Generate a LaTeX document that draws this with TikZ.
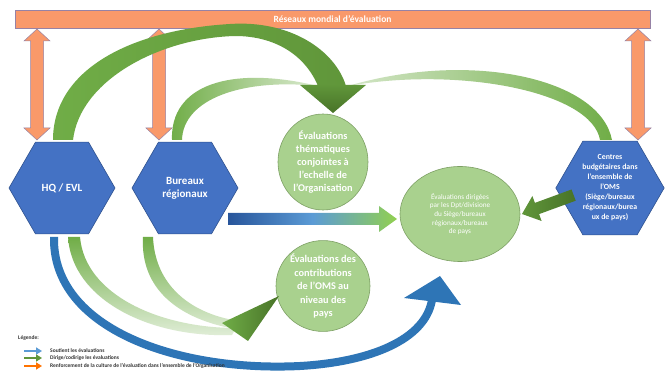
\documentclass[tikz,border=0pt]{standalone}
\usepackage{fontspec}
\setmainfont{Carlito}
\usetikzlibrary{shapes.geometric,arrows.meta}
\definecolor{orangeF}{RGB}{249,153,106}
\definecolor{orangeD}{RGB}{150,130,165}
\definecolor{hexblue}{RGB}{68,114,196}
\definecolor{hexbord}{RGB}{47,82,143}
\definecolor{ellgreen}{RGB}{169,209,142}
\definecolor{ellbord}{RGB}{125,160,100}
\definecolor{gA}{RGB}{112,173,71}
\definecolor{gM}{RGB}{96,150,58}
\definecolor{gD}{RGB}{72,115,40}
\definecolor{gL}{RGB}{146,208,80}
\definecolor{bA}{RGB}{46,117,182}
\definecolor{bD}{RGB}{40,85,155}
\definecolor{bL}{RGB}{91,155,213}
\begin{document}
\begin{tikzpicture}[x=1pt,y=-1pt,
  hexnode/.style={regular polygon, regular polygon sides=6, minimum size=106pt, inner sep=0pt,
    fill=hexblue, draw=hexbord, line width=0.6pt, text=white, font=\bfseries, align=center},
  ellnode/.style={ellipse, fill=ellgreen, draw=ellbord, line width=0.6pt, text=white, align=center, inner sep=0pt},
  orangearrow/.style={fill=orangeF, draw=orangeD, line width=0.5pt},
  legtext/.style={anchor=west, font=\bfseries\fontsize{5.5}{6}\selectfont, text=black!80, inner sep=0pt},
  legarrow/.style={line width=2pt, -{Triangle[length=6pt,width=7pt]}}
]
\useasboundingbox (0,0) rectangle (665,374);
\fill[white] (0,0) rectangle (665,374);

% top bar
\node[fill=orangeF, draw=orangeD, line width=0.5pt, minimum width=635pt, minimum height=18pt, inner sep=0pt,
  text=white, font=\bfseries\fontsize{9.5}{10}\selectfont] (bar) at (332.5,19.5) {Réseaux mondial d’évaluation};

% orange double arrows
\foreach \xx in {37,159,638} {
  \draw[orangearrow] (\xx,29) -- ++(13,12) -- ++(-6.5,0) -- ++(0,87) -- ++(6.5,0) -- ++(-13,12)
    -- ++(-13,-12) -- ++(6.5,0) -- ++(0,-87) -- ++(-6.5,0) -- cycle;
}

% big green arc HQ -> thematic
\shade[left color=gA, right color=gM]
  (53,140) .. controls (53,70) and (130,30) .. (230,24) .. controls (290,20) and (335,50) .. (346,86)
  -- (318,86) .. controls (305,55) and (275,36) .. (235,36) .. controls (160,38) and (80,80) .. (73,140) -- cycle;
% thin band BR -> head
\shade[left color=gA, right color=gA!25!white]
  (172,140) .. controls (170,85) and (230,65) .. (318,86)
  .. controls (240,78) and (183,100) .. (182,140) -- cycle;
% thin band Centres -> head
\shade[right color=gA, left color=gA!30!white]
  (612,140) .. controls (600,78) and (470,50) .. (348,86)
  .. controls (460,66) and (592,92) .. (600,140) -- cycle;
% head
\shade[top color=gM, bottom color=gD] (300,85) -- (366,85) -- (333,113) -- cycle;

% hexagons
\node[hexnode, font=\bfseries\fontsize{11}{13}\selectfont] (hq) at (62,188) {HQ / EVL};
\node[hexnode, font=\bfseries\fontsize{11}{13}\selectfont] (br) at (185,188) {Bureaux\\régionaux};
\node[hexnode, font=\bfseries\fontsize{7.8}{10}\selectfont] (cb) at (610,188)
  {Centres\\budgétaires dans\\l’ensemble de\\l’OMS\\(Siège/bureaux\\régionaux/burea\\ux de pays)};

% ellipses
\node[ellnode, minimum width=90pt, minimum height=96pt, font=\bfseries\fontsize{10.3}{12.8}\selectfont] (e1) at (323,162)
  {Évaluations\\thématiques\\conjointes à\\l’echelle de\\l’Organisation};
\node[ellnode, minimum width=94pt, minimum height=90pt, font=\bfseries\fontsize{10.3}{13.5}\selectfont] (e2) at (323,286)
  {Évaluations des\\contributions\\de l’OMS au\\niveau des\\pays};
\node[ellnode, minimum width=120pt, minimum height=95pt, font=\fontsize{7.2}{8.6}\selectfont] (e3) at (460,214)
  {Évaluations dirigées\\par les Dpt/divisione\\du Siège/bureaux\\régionaux/bureaux\\de pays};

% gradient arrow BR -> e3
\shade[left color=bD, right color=gL, middle color=bL]
  (228,213) -- (379,213) -- (379,206) -- (397,219) -- (379,232) -- (379,225) -- (228,225) -- cycle;

% green arrow Centres -> e3
\shade[left color=gM, right color=gD]
  (571.5,189.5) -- (534.9,202.9) -- (532.4,196.0) -- (522,214) -- (541.6,221.0) -- (539.1,214.1) -- (575.7,200.7) -- cycle;

% bottom green bands
\shade[top color=gA, bottom color=gA!20!white]
  (68,237) .. controls (72,300) and (150,338) .. (232,335)
  -- (236,328) .. controls (160,328) and (85,295) .. (80,237) -- cycle;
\shade[top color=gA, bottom color=gA!25!white]
  (143,237) .. controls (140,290) and (180,318) .. (230,328)
  -- (233,320) .. controls (190,312) and (155,285) .. (153,237) -- cycle;
\shade[left color=gA, right color=gD] (222,323) -- (279,296) -- (248,341) -- cycle;

% blue band
\draw[bA, line width=8pt] (54,237) .. controls (52,330) and (180,372) .. (300,366)
  .. controls (370,362) and (425,340) .. (432,300);
\fill[bA] (404,298) -- (440,276) -- (461,305) -- cycle;

% legend
\node[legtext, font=\bfseries\fontsize{5.5}{6}\selectfont] (leg) at (18,338) {Légende:};
\coordinate (l1) at (24,351);
\coordinate (l2) at (24,358);
\coordinate (l3) at (24,366);
\draw[legarrow, bL] (l1) -- ++(18,0) coordinate (l1e);
\draw[legarrow, gM] (l2) -- ++(18,0) coordinate (l2e);
\draw[legarrow, orange!90!red] (l3) -- ++(18,0) coordinate (l3e);
\node[legtext] (t1) at (50,351) {Soutient les évaluations};
\node[legtext] (t2) at (50,358) {Dirige/codirige les évaluations};
\node[legtext] (t3) at (50,366) {Renforcement de la culture de l’évaluation dans l’ensemble de l’Organisation};
\end{tikzpicture}
\end{document}
